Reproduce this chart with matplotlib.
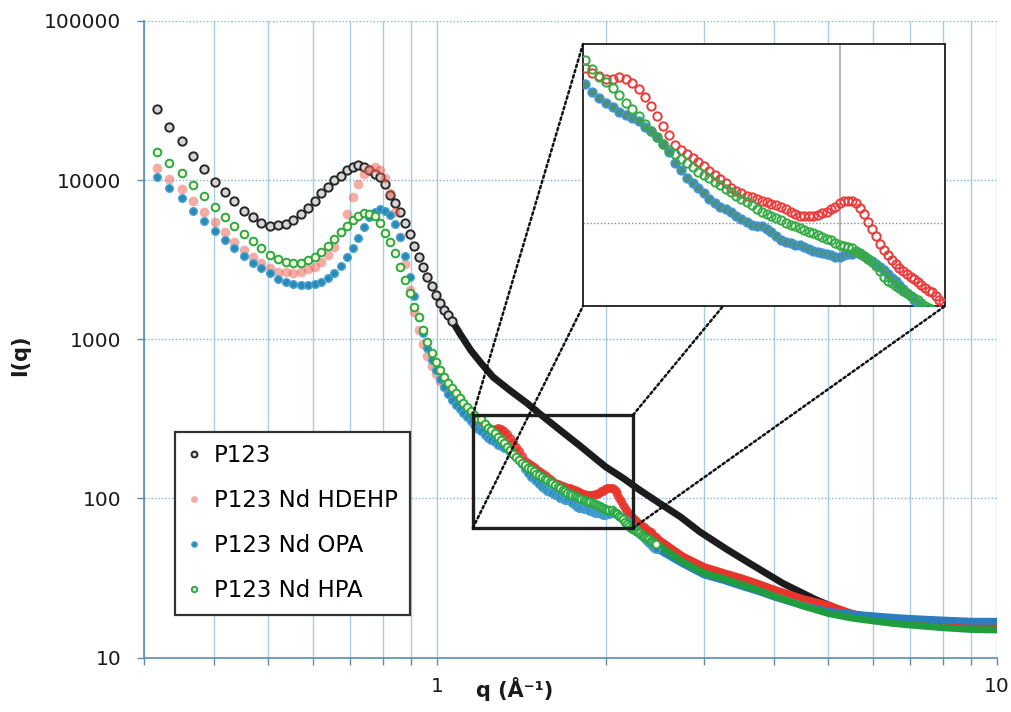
import matplotlib
matplotlib.use("Agg")
import matplotlib.pyplot as plt
from matplotlib.patches import Rectangle, ConnectionPatch
from matplotlib.ticker import FixedLocator, FixedFormatter, NullLocator, NullFormatter, LogLocator

# ------------------------------------------------------------------ data
Q_LOW = [0.316, 0.333, 0.350, 0.367, 0.384, 0.401, 0.418, 0.435, 0.452, 0.469,
         0.486, 0.503, 0.520, 0.537, 0.554, 0.571, 0.588, 0.605, 0.622, 0.639,
         0.656, 0.673, 0.690, 0.707, 0.724, 0.741, 0.758, 0.775, 0.792, 0.809,
         0.826, 0.843, 0.860, 0.877, 0.894, 0.911, 0.928, 0.945, 0.962, 0.979,
         0.996, 1.013, 1.030, 1.047, 1.064, 1.081, 1.098, 1.115, 1.132, 1.149,
         1.166, 1.183]

I_P123_LOW = [27800, 21600, 17500, 14150, 11670, 9750, 8370, 7350, 6410, 5880,
              5390, 5160, 5210, 5290, 5610, 6090, 6640, 7410, 8250, 9080,
              10000, 10640, 11560, 12120, 12420, 12020, 11560, 10910, 10490, 9400,
              8050, 7140, 6270, 5390, 4560, 3850, 3300, 2830, 2470, 2170,
              1890, 1690, 1520, 1420, 1310]

I_HDEHP_LOW = [11840, 10150, 8780, 7410, 6320, 5470, 4730, 4100, 3630, 3300,
               3000, 2790, 2650, 2630, 2615, 2650, 2750, 2850, 3070, 3380,
               3810, 4710, 6110, 7820, 9440, 10910, 11810, 12070, 11560, 10290,
               8280, 6300, 4380, 2970, 2040, 1480, 1140, 932, 784, 678,
               604, 546, 500, 466, 439, 415, 391, 369, 349, 329,
               315, 306]

I_OPA_LOW = [10490, 8940, 7670, 6410, 5530, 4800, 4200, 3720, 3330, 3020,
             2790, 2590, 2390, 2280, 2220, 2190, 2190, 2220, 2300, 2430,
             2615, 2890, 3300, 3720, 4300, 5090, 5830, 6320, 6540, 6390,
             6030, 5290, 4400, 3330, 2470, 1870, 1380, 1090, 880, 740,
             640, 562, 500, 452, 415, 386, 364, 344, 324, 306,
             289, 272]

I_HPA_LOW = [15060, 12840, 11020, 9260, 7930, 6800, 5860, 5140, 4560, 4160,
             3720, 3390, 3190, 3070, 3020, 3020, 3140, 3300, 3540, 3870,
             4260, 4730, 5160, 5610, 5940, 6180, 6110, 5970, 5390, 4630,
             4100, 3490, 2850, 2350, 1940, 1590, 1370, 1140, 960, 818,
             719, 640, 578, 530, 493, 459, 427, 397, 375, 354,
             334, 315]

Q_MID = [1.200, 1.217, 1.234, 1.251, 1.268, 1.285, 1.302, 1.319, 1.336, 1.353,
         1.370, 1.387, 1.404, 1.421, 1.438, 1.455, 1.472, 1.489, 1.506, 1.523,
         1.540, 1.557, 1.574, 1.591, 1.608, 1.625, 1.642, 1.659, 1.676, 1.693,
         1.710, 1.727, 1.744, 1.761, 1.778, 1.795, 1.812, 1.829, 1.846, 1.863,
         1.880, 1.897, 1.914, 1.931, 1.948, 1.965, 1.982, 1.999, 2.016, 2.033,
         2.050, 2.067, 2.084, 2.101, 2.118, 2.135, 2.152, 2.169, 2.186, 2.203,
         2.220, 2.237, 2.254, 2.271, 2.288, 2.305, 2.322, 2.339, 2.356, 2.373,
         2.390, 2.407, 2.424, 2.441, 2.458]

I_HDEHP_MID = [295, 286, 279, 274, 274, 278, 274, 265, 255, 241,
               227, 211, 197, 185, 172, 166, 162, 157, 153, 149,
               144, 140, 136, 132, 128, 125, 123, 121, 119.5, 118,
               117, 116, 114, 113, 112, 110, 108, 106.5, 105, 105,
               105, 105, 106, 107, 108, 110.5, 112, 114.6, 117, 117,
               117, 115, 111, 106.5, 101, 96.2, 91, 86.4, 82.8, 79.7,
               77, 74.9, 73.2, 71.6, 70, 68.8, 67.4, 66.3, 64.9, 63.5,
               62.2, 61.7, 59.9, 58.4, 57.0]

I_OPA_MID = [264, 249, 240, 231, 225, 217, 212, 208, 204, 196,
             190, 182, 173, 164, 152.5, 145, 137, 132, 128, 123,
             118, 115, 112, 110, 107.6, 105, 103, 100.8, 98.8, 97.9,
             97.6, 95.9, 93.7, 91, 88.6, 87.5, 86.9, 86, 85.5, 84.6,
             83.2, 82.1, 81.4, 81.0, 80.6, 79.7, 78.9, 79.0, 79.7, 80.3,
             80.7, 81.5, 80.4, 79.3, 78.0, 76.5, 75.1, 73.6, 71.9, 70.1,
             68.3, 66.5, 64.7, 63.1, 61.5, 59.9, 58.4, 56.9, 55.5, 54.1,
             52.8, 51.6, 50.3, 49.1, 47.9]

I_HPA_MID = [313, 294, 278, 268, 256, 244, 231, 222, 211, 200,
             190, 182, 173.5, 166, 162, 156, 152, 148, 143, 140,
             137, 133, 130, 127, 124, 121, 118, 116, 113, 110.5,
             108, 106.5, 105, 103.6, 101.8, 100, 98.4, 97.6, 96.4, 95.2,
             94.2, 93.1, 91.8, 90.7, 89.4, 88.5, 87.2, 85.9, 85.1, 84.6,
             84.1, 82.5, 80.9, 79.4, 78.0, 76.4, 74.3, 71.3, 68.7, 66.9,
             65.6, 64.5, 63.4, 62.3, 61.2, 60.2, 59.2, 58.2, 57.2, 56.2,
             55.3, 54.3, 53.4, 52.5, 51.6]

Q_P123_BAND = [1.064, 1.10, 1.15, 1.20, 1.26, 1.35, 1.45, 1.55, 1.66, 1.80,
               2.00, 2.15, 2.30, 2.50, 2.72, 2.95, 3.30, 3.62, 4.15, 4.76, 5.10]
I_P123_BAND = [1310, 1080, 850, 705, 578, 477, 395, 325, 268, 214,
               158, 134, 113, 93, 76.6, 61.5, 47.6, 39.0, 29.2, 23.0, 20.8]

Q_HIGH = [2.5, 2.75, 3.0, 3.25, 3.5, 3.75, 4.0, 4.5, 5.0, 5.5, 6.0, 6.5, 7.0, 8.0, 9.0, 10.0]
I_HDEHP_HIGH = [54.9, 43.4, 37.3, 34.2, 31.7, 29.2, 26.9, 23.5, 21.4, 19.0, 17.8, 17.0, 16.5, 16.0, 15.8, 15.7]
I_OPA_HIGH = [47.0, 38.7, 33.0, 30.5, 28.0, 26.0, 24.0, 21.2, 19.5, 18.8, 18.3, 17.9, 17.6, 17.2, 16.9, 16.9]
I_HPA_HIGH = [50.0, 39.8, 33.9, 31.3, 28.7, 26.5, 24.3, 21.1, 18.9, 17.7, 17.0, 16.4, 16.0, 15.4, 15.0, 14.9]

SERIES_LABELS = ["P123", "P123 Nd HDEHP", "P123 Nd OPA", "P123 Nd HPA"]
X_TICKS = [1, 10]
X_TICK_LABELS = ["1", "10"]
Y_TICKS = [10, 100, 1000, 10000, 100000]
Y_TICK_LABELS = ["10", "100", "1000", "10000", "100000"]
X_LIMITS = (0.3, 10)
Y_LIMITS = (10, 100000)
ZOOM_Q = (1.159, 2.239)
ZOOM_I = (65.1, 333.8)
INSET_Q = (1.195, 2.47)
INSET_I = (56.0, 349.0)
INSET_GRID_Q = [2]
INSET_GRID_I = [100]

# ------------------------------------------------------------------ style
plt.rcParams['font.family'] = ['DejaVu Sans']
AXIS_COL = '#5a8db3'
GRID_COL = '#a8cde2'

C_BLACK_EDGE = '#262626'
C_RED = '#ec5a4c'
C_RED_BAND = '#e8352c'
C_BLUE_FACE = '#2b8ab4'
C_BLUE_EDGE = '#4aa2d6'
C_BLUE_BAND = '#2a7dc0'
C_GREEN = '#2aa846'
C_GREEN_BAND = '#1f9d3f'

fig = plt.figure(figsize=(10.12, 7.12), dpi=100)
ax = fig.add_axes([0.1423, 0.0765, 0.8429, 0.8942])
ax.set_xscale('log')
ax.set_yscale('log')
ax.set_xlim(*X_LIMITS)
ax.set_ylim(*Y_LIMITS)

# grid
ax.xaxis.set_major_locator(FixedLocator(X_TICKS))
ax.xaxis.set_major_formatter(FixedFormatter(X_TICK_LABELS))
ax.xaxis.set_minor_locator(LogLocator(base=10, subs=[2, 3, 4, 5, 6, 7, 8, 9]))
ax.xaxis.set_minor_formatter(NullFormatter())
ax.yaxis.set_major_locator(FixedLocator(Y_TICKS))
ax.yaxis.set_major_formatter(FixedFormatter(Y_TICK_LABELS))
ax.yaxis.set_minor_locator(NullLocator())
ax.grid(True, which='both', axis='x', color=GRID_COL, lw=1.0, ls='-')
ax.grid(True, which='major', axis='y', color='#7fb6d6', lw=1.0, ls=(0, (1, 1.5)))
ax.set_axisbelow(True)
for s in ('top', 'right'):
    ax.spines[s].set_visible(False)
for s in ('left', 'bottom'):
    ax.spines[s].set_color(AXIS_COL)
    ax.spines[s].set_linewidth(1.2)
ax.tick_params(which='both', direction='out', color=AXIS_COL, length=5, width=1.0,
               labelsize=14.5, labelcolor='#1a1a1a')
ax.tick_params(axis='x', pad=9)
ax.tick_params(axis='y', pad=11.5)

# ---- main data
nb = len(I_P123_LOW)
ax.plot(Q_P123_BAND, I_P123_BAND, '-', color='#1c1c1c', lw=5.0, solid_capstyle='round', zorder=2)
h0, = ax.plot(Q_LOW[:nb], I_P123_LOW, 'o', ms=6, mfc='#d6d6d6', mec=C_BLACK_EDGE, mew=1.4,
              ls='none', zorder=3)

ax.plot([Q_MID[-1]] + Q_HIGH, [I_HDEHP_MID[-1]] + I_HDEHP_HIGH, '-', color=C_RED_BAND,
        lw=5.0, solid_capstyle='round', zorder=2.1)
h1, = ax.plot(Q_LOW, I_HDEHP_LOW, 'o', ms=7, color=C_RED, alpha=0.5, mew=0, ls='none', zorder=3.1)
ax.plot(Q_MID, I_HDEHP_MID, 'o', ms=6.5, color=C_RED_BAND, alpha=0.85, mew=0, ls='none', zorder=3.1)

ax.plot([Q_MID[-1]] + Q_HIGH, [I_OPA_MID[-1]] + I_OPA_HIGH, '-', color=C_BLUE_BAND,
        lw=5.0, solid_capstyle='round', zorder=2.2)
h2, = ax.plot(Q_LOW, I_OPA_LOW, 'o', ms=5.5, mfc=C_BLUE_FACE, mec=C_BLUE_EDGE, mew=1.0,
              ls='none', zorder=3.2)
ax.plot(Q_MID, I_OPA_MID, 'o', ms=5.5, mfc=C_BLUE_FACE, mec=C_BLUE_EDGE, mew=1.0,
        ls='none', zorder=3.2)

ax.plot([Q_MID[-1]] + Q_HIGH, [I_HPA_MID[-1]] + I_HPA_HIGH, '-', color=C_GREEN_BAND,
        lw=5.0, solid_capstyle='round', zorder=2.3)
h3, = ax.plot(Q_LOW, I_HPA_LOW, 'o', ms=5.5, mfc='#fbfbd8', mec=C_GREEN, mew=1.4,
              ls='none', zorder=3.3)
ax.plot(Q_MID, I_HPA_MID, 'o', ms=5.5, mfc='#fbfbd8', mec=C_GREEN, mew=1.4,
        ls='none', zorder=3.3)

# axis labels
ax.set_xlabel('q (Å⁻¹)', fontsize=15, fontweight='bold', color='#1a1a1a')
ax.xaxis.set_label_coords(0.435, -0.030)
ax.set_ylabel('I(q)', fontsize=15, fontweight='bold', color='#1a1a1a')
ax.yaxis.set_label_coords(-0.133, 0.475)

# zoom rectangle
rect = Rectangle((ZOOM_Q[0], ZOOM_I[0]), ZOOM_Q[1] - ZOOM_Q[0], ZOOM_I[1] - ZOOM_I[0],
                 fill=False, ec='#1e1e1e', lw=2.4, zorder=6)
ax.add_patch(rect)

# legend
leg = ax.legend(handles=[h0, h1, h2, h3], labels=SERIES_LABELS, loc='lower left',
                bbox_to_anchor=(0.0363, 0.0667), borderaxespad=0, frameon=True,
                fancybox=False, edgecolor='#333333', framealpha=1, fontsize=16.5,
                markerscale=0.7, handlelength=0.55, handletextpad=0.6,
                labelspacing=0.96, borderpad=0.55)
leg.get_frame().set_linewidth(1.6)
leg.set_zorder(10)

# ------------------------------------------------------------------ inset
ax2 = fig.add_axes([0.5761, 0.5702, 0.3577, 0.3680])
ax2.set_xscale('log')
ax2.set_yscale('log')
ax2.set_xlim(*INSET_Q)
ax2.set_ylim(*INSET_I)
ax2.xaxis.set_major_locator(FixedLocator(INSET_GRID_Q))
ax2.yaxis.set_major_locator(FixedLocator(INSET_GRID_I))
ax2.xaxis.set_minor_locator(NullLocator())
ax2.yaxis.set_minor_locator(NullLocator())
ax2.tick_params(which='both', length=0, labelbottom=False, labelleft=False)
ax2.grid(True, axis='x', color='#b8b8b8', lw=1.5, ls='-')
ax2.grid(True, axis='y', color='#8a8a8a', lw=1.0, ls=(0, (1, 1.5)))
ax2.set_axisbelow(True)
for s in ax2.spines.values():
    s.set_color('#1e1e1e')
    s.set_linewidth(1.3)
ax2.plot(Q_MID, I_HDEHP_MID, 'o', ms=6, mfc='none', mec='#ea3b3b', mew=1.4, ls='none', zorder=3)
ax2.plot(Q_MID, I_OPA_MID, 'o', ms=6, mfc='#4f9070', mec='#3f95d5', mew=1.4, ls='none', zorder=3.1)
ax2.plot(Q_MID, I_HPA_MID, 'o', ms=6, mfc='none', mec='#35ab46', mew=1.4, ls='none', zorder=3.2)

# connectors
conn_style = dict(color='#111111', lw=1.8, ls=(0, (1, 1.2)), zorder=7)
corners = [((ZOOM_Q[0], ZOOM_I[1]), (0.0, 1.0)),
           ((ZOOM_Q[0], ZOOM_I[0]), (0.0, 0.0)),
           ((ZOOM_Q[1], ZOOM_I[1]), (0.387, 0.0)),
           ((ZOOM_Q[1], ZOOM_I[0]), (1.0, 0.0))]
for pa, pb in corners:
    cp = ConnectionPatch(xyA=pa, coordsA=ax.transData, xyB=pb, coordsB=ax2.transAxes, **conn_style)
    fig.add_artist(cp)

fig.savefig('out.png', dpi=100, facecolor='white')
